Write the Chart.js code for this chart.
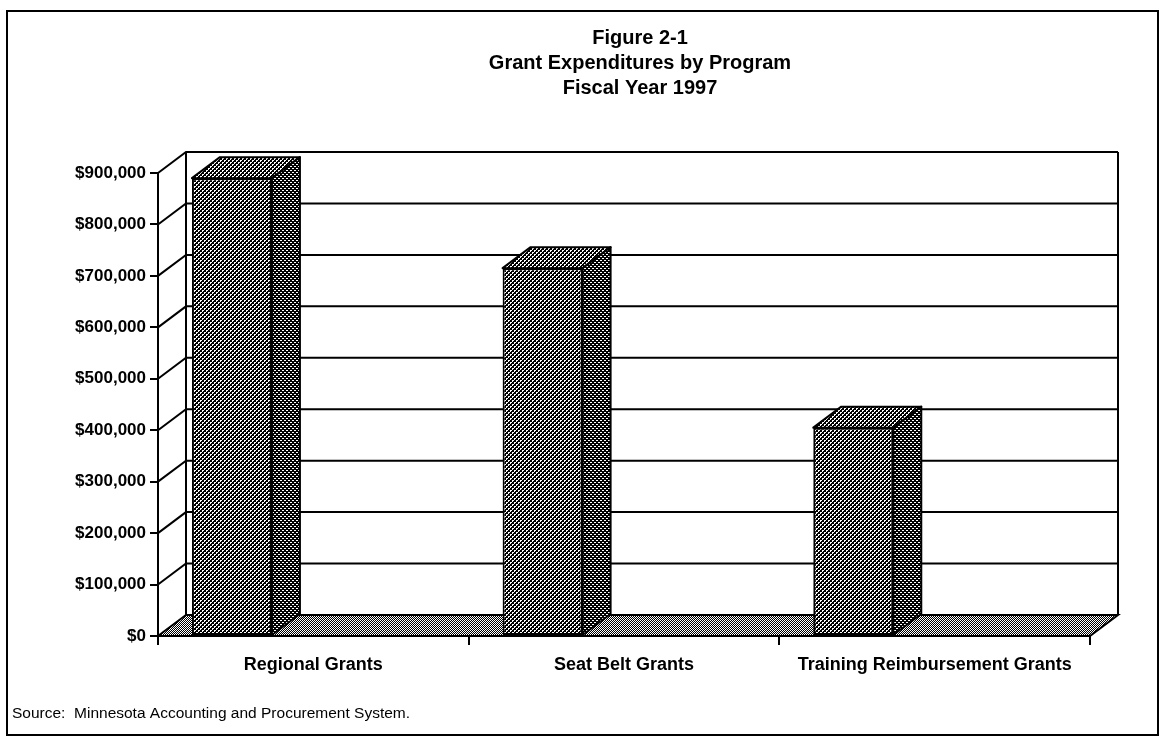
<!DOCTYPE html>
<html><head><meta charset="utf-8">
<script src="https://cdn.jsdelivr.net/npm/chart.js@4.4.1/dist/chart.umd.min.js"></script>
<style>html,body{margin:0;padding:0;background:#fff;}#wrap{width:1161px;height:738px;}</style>
</head><body><div id="wrap"><canvas id="c" width="1161" height="738"></canvas></div>
<script>
// ---- data ----
const titleLines = ["Figure 2-1", "Grant Expenditures by Program", "Fiscal Year 1997"];
const categories = ["Regional Grants", "Seat Belt Grants", "Training Reimbursement Grants"];
const expenditures = [890000, 715000, 405000];
const yTickValues = [0, 100000, 200000, 300000, 400000, 500000, 600000, 700000, 800000, 900000];
const sourceNote = "Source:  Minnesota Accounting and Procurement System.";

// ---- styling constants ----
const FONT = "Arial, 'Liberation Sans', sans-serif";
const DEPTH_X = 28, DEPTH_Y = 21;
const BAR_SHIFT = 0.262; // fraction of category width the bars sit left of centre

function makePattern(size, whites, bg, fg) {
  const c = document.createElement('canvas');
  c.width = size; c.height = size;
  const g = c.getContext('2d');
  g.fillStyle = bg; g.fillRect(0, 0, size, size);
  g.fillStyle = fg;
  whites.forEach(p => g.fillRect(p[0], p[1], 1, 1));
  return document.getElementById('c').getContext('2d').createPattern(c, 'repeat');
}
const frontPat = makePattern(4, [[0,0],[1,0],[0,1],[2,2],[3,2],[2,3]], '#000', '#fff');
const sidePat  = makePattern(4, [[0,0],[1,0],[2,2],[3,2]], '#000', '#fff');
const topPat   = makePattern(4, [[0,0],[1,0],[0,1],[2,2],[3,2],[2,3]], '#000', '#fff');
const floorPat = makePattern(4, [[0,0],[2,0],[1,1],[3,1],[0,2],[2,2],[1,3],[3,3]], '#000', '#fff');

const fmtMoney = v => '$' + v.toLocaleString('en-US');

const framePlugin = {
  id: 'frame',
  beforeDraw(chart) {
    const ctx = chart.ctx;
    ctx.save();
    ctx.fillStyle = '#fff';
    ctx.fillRect(0, 0, chart.width, chart.height);
    ctx.strokeStyle = '#000';
    ctx.lineWidth = 2;
    ctx.strokeRect(7, 11, 1151, 724);
    ctx.restore();
  },
  afterDraw(chart) {
    const ctx = chart.ctx;
    ctx.save();
    ctx.fillStyle = '#000';
    ctx.textAlign = 'center';
    ctx.textBaseline = 'middle';
    ctx.font = 'bold 20px ' + FONT;
    titleLines.forEach((t, i) => ctx.fillText(t, 640, 38 + i * 25));
    ctx.textAlign = 'left';
    ctx.font = '15.5px ' + FONT;
    ctx.fillText(sourceNote, 12, 714);
    ctx.restore();
  }
};

const threeD = {
  id: 'threeD',
  afterDatasetsUpdate(chart) {
    const xs = chart.scales.x;
    const catW = (xs.right - xs.left) / categories.length;
    chart.getDatasetMeta(0).data.forEach(el => { el.x -= catW * BAR_SHIFT; });
  },
  beforeDatasetsDraw(chart) {
    const ctx = chart.ctx, a = chart.chartArea, ys = chart.scales.y;
    ctx.save();
    ctx.strokeStyle = '#000';
    ctx.lineWidth = 2;
    yTickValues.forEach(v => {
      if (v === 0) return;
      const y = ys.getPixelForValue(v);
      ctx.beginPath();
      ctx.moveTo(a.left, y);
      ctx.lineTo(a.left + DEPTH_X, y - DEPTH_Y);
      ctx.lineTo(a.right + DEPTH_X, y - DEPTH_Y);
      ctx.stroke();
    });
    ctx.beginPath();
    ctx.moveTo(a.left + DEPTH_X, a.top - DEPTH_Y);
    ctx.lineTo(a.left + DEPTH_X, a.bottom - DEPTH_Y);
    ctx.moveTo(a.right + DEPTH_X, a.top - DEPTH_Y);
    ctx.lineTo(a.right + DEPTH_X, a.bottom - DEPTH_Y);
    ctx.stroke();
    ctx.beginPath();
    ctx.moveTo(a.left, a.bottom);
    ctx.lineTo(a.right, a.bottom);
    ctx.lineTo(a.right + DEPTH_X, a.bottom - DEPTH_Y);
    ctx.lineTo(a.left + DEPTH_X, a.bottom - DEPTH_Y);
    ctx.closePath();
    ctx.fillStyle = floorPat;
    ctx.fill();
    ctx.stroke();
    ctx.restore();
  },
  afterDatasetsDraw(chart) {
    const ctx = chart.ctx;
    ctx.save();
    ctx.strokeStyle = '#000';
    ctx.lineWidth = 2;
    ctx.lineJoin = 'round';
    chart.getDatasetMeta(0).data.forEach(el => {
      const p = el.getProps(['x', 'y', 'base', 'width']);
      const l = p.x - p.width / 2, r = p.x + p.width / 2;
      ctx.beginPath();
      ctx.moveTo(l, p.y);
      ctx.lineTo(l + DEPTH_X, p.y - DEPTH_Y);
      ctx.lineTo(r + DEPTH_X, p.y - DEPTH_Y);
      ctx.lineTo(r, p.y);
      ctx.closePath();
      ctx.fillStyle = topPat; ctx.fill(); ctx.stroke();
      ctx.beginPath();
      ctx.moveTo(r, p.y);
      ctx.lineTo(r + DEPTH_X, p.y - DEPTH_Y);
      ctx.lineTo(r + DEPTH_X, p.base - DEPTH_Y);
      ctx.lineTo(r, p.base);
      ctx.closePath();
      ctx.fillStyle = sidePat; ctx.fill(); ctx.stroke();
    });
    ctx.restore();
  }
};

new Chart(document.getElementById('c'), {
  type: 'bar',
  data: {
    labels: categories,
    datasets: [{
      label: 'Grant expenditures',
      data: expenditures,
      backgroundColor: frontPat,
      borderColor: '#000',
      borderWidth: 2,
      borderSkipped: false,
      categoryPercentage: 1,
      barPercentage: 0.2575
    }]
  },
  options: {
    responsive: false,
    animation: false,
    devicePixelRatio: 1,
    layout: { padding: { top: 173, right: 71, bottom: 62, left: 0 } },
    plugins: { legend: { display: false }, title: { display: false }, tooltip: { enabled: false } },
    scales: {
      x: {
        offset: true,
        grid: { offset: true, drawOnChartArea: false, color: '#000', lineWidth: 2, tickLength: 9 },
        border: { display: true, color: '#000', width: 2 },
        ticks: { color: '#000', font: { family: FONT, size: 18, weight: 'bold' }, padding: 9, maxRotation: 0, autoSkip: false },
        afterFit(s) { s.height = 40; }
      },
      y: {
        min: 0, max: 900000,
        afterBuildTicks(s) { s.ticks = yTickValues.map(v => ({ value: v })); },
        grid: { drawOnChartArea: false, color: '#000', lineWidth: 2, tickLength: 8 },
        border: { display: true, color: '#000', width: 2 },
        ticks: { color: '#000', font: { family: FONT, size: 17, weight: 'bold' }, padding: 4, callback: v => fmtMoney(v) },
        afterFit(s) { s.width = 158; }
      }
    }
  },
  plugins: [framePlugin, threeD]
});
</script></body></html>
